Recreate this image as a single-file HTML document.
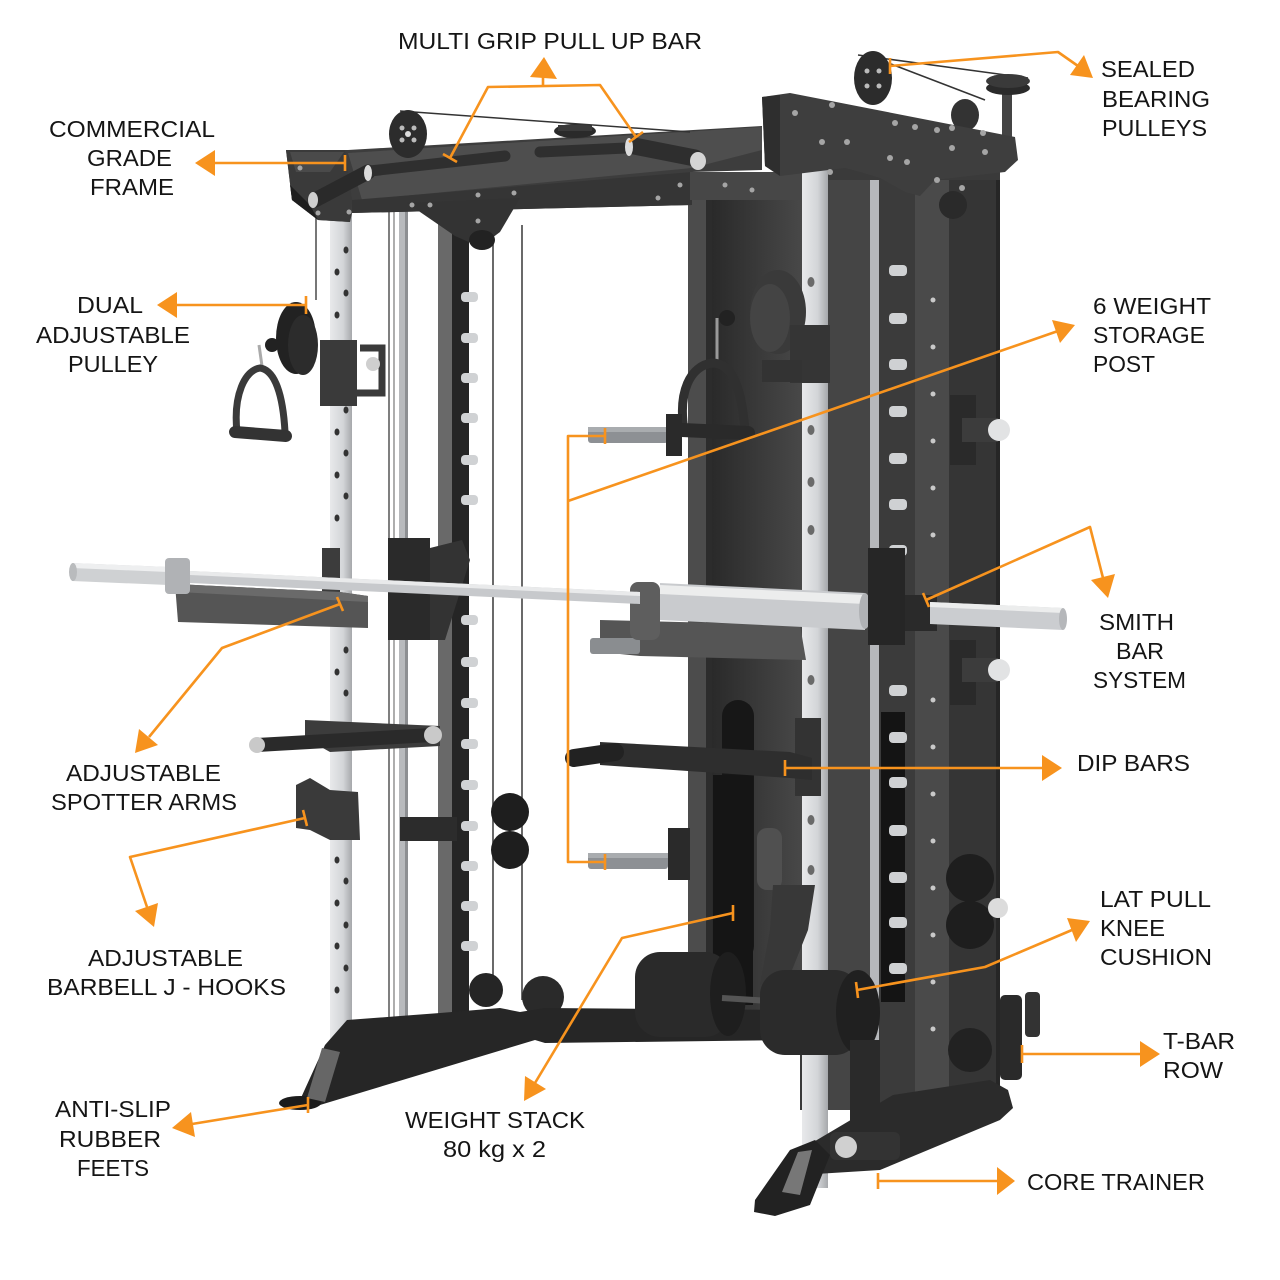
<!DOCTYPE html>
<html><head><meta charset="utf-8"><style>html,body{margin:0;padding:0;background:#fff}svg{display:block}</style></head>
<body>
<svg width="1280" height="1280" viewBox="0 0 1280 1280" xmlns="http://www.w3.org/2000/svg">
<defs>
<linearGradient id="silverV" x1="0" x2="1" y1="0" y2="0"><stop offset="0" stop-color="#e8e9eb"/><stop offset="0.6" stop-color="#d3d5d8"/><stop offset="1" stop-color="#a6a8ab"/></linearGradient>
<linearGradient id="panel" x1="0" x2="1" y1="0" y2="0"><stop offset="0" stop-color="#2a2a2a"/><stop offset="1" stop-color="#484848"/></linearGradient>
</defs>
<rect width="1280" height="1280" fill="#fff"/>

<!-- RIGHT TOWER -->
<rect x="688" y="178" width="114" height="832" fill="#3a3a3a"/>
<rect x="800" y="168" width="200" height="942" fill="#3a3a3a"/>
<rect x="688" y="178" width="20" height="830" fill="#4c4c4c"/>
<rect x="706" y="178" width="6" height="830" fill="#2c2c2c"/>
<rect x="712" y="200" width="90" height="810" fill="url(#panel)"/>
<rect x="722" y="700" width="32" height="262" rx="16" fill="#171717"/>
<rect x="713" y="775" width="40" height="230" fill="#151515"/>
<rect x="828" y="180" width="42" height="930" fill="#454545"/>
<rect x="870" y="180" width="9" height="920" fill="#b6b8bb"/>
<rect x="879" y="180" width="36" height="930" fill="#3b3b3b"/>
<rect x="881" y="712" width="24" height="290" fill="#141414"/>
<rect x="915" y="180" width="34" height="930" fill="#4a4a4a"/>
<rect x="949" y="180" width="50" height="930" fill="#353535"/>
<rect x="996" y="180" width="4" height="930" fill="#262626"/>
<g fill="#cfd1d3">
<rect x="889" y="265" width="18" height="11" rx="4"/><rect x="889" y="313" width="18" height="11" rx="4"/><rect x="889" y="359" width="18" height="11" rx="4"/><rect x="889" y="406" width="18" height="11" rx="4"/><rect x="889" y="453" width="18" height="11" rx="4"/><rect x="889" y="499" width="18" height="11" rx="4"/><rect x="889" y="545" width="18" height="11" rx="4"/><rect x="889" y="685" width="18" height="11" rx="4"/><rect x="889" y="732" width="18" height="11" rx="4"/><rect x="889" y="777" width="18" height="11" rx="4"/><rect x="889" y="825" width="18" height="11" rx="4"/><rect x="889" y="872" width="18" height="11" rx="4"/><rect x="889" y="917" width="18" height="11" rx="4"/><rect x="889" y="963" width="18" height="11" rx="4"/>
</g>
<g fill="#c9c9c9">
<circle cx="933" cy="300" r="2.5"/><circle cx="933" cy="347" r="2.5"/><circle cx="933" cy="394" r="2.5"/><circle cx="933" cy="441" r="2.5"/><circle cx="933" cy="488" r="2.5"/><circle cx="933" cy="535" r="2.5"/><circle cx="933" cy="700" r="2.5"/><circle cx="933" cy="747" r="2.5"/><circle cx="933" cy="794" r="2.5"/><circle cx="933" cy="841" r="2.5"/><circle cx="933" cy="888" r="2.5"/><circle cx="933" cy="935" r="2.5"/><circle cx="933" cy="982" r="2.5"/><circle cx="933" cy="1029" r="2.5"/>
</g>
<!-- right silver upright -->
<rect x="802" y="168" width="26" height="1020" fill="url(#silverV)"/>
<g fill="#6a6a6a">
<ellipse cx="811" cy="282" rx="3.5" ry="5"/><ellipse cx="811" cy="430" rx="3.5" ry="5"/><ellipse cx="811" cy="482" rx="3.5" ry="5"/><ellipse cx="811" cy="530" rx="3.5" ry="5"/><ellipse cx="811" cy="680" rx="3.5" ry="5"/><ellipse cx="811" cy="730" rx="3.5" ry="5"/><ellipse cx="811" cy="820" rx="3.5" ry="5"/><ellipse cx="811" cy="870" rx="3.5" ry="5"/>
</g>
<!-- right side storage posts -->
<rect x="950" y="395" width="26" height="70" fill="#2a2a2a"/>
<rect x="962" y="418" width="36" height="24" fill="#3c3c3c"/>
<circle cx="999" cy="430" r="11" fill="#e2e3e4"/>
<rect x="950" y="640" width="26" height="65" fill="#2a2a2a"/>
<rect x="962" y="658" width="36" height="24" fill="#3c3c3c"/>
<circle cx="999" cy="670" r="11" fill="#e2e3e4"/>
<circle cx="970" cy="878" r="24" fill="#1e1e1e"/>
<circle cx="970" cy="925" r="24" fill="#1e1e1e"/>
<circle cx="998" cy="908" r="10" fill="#dcdcdc"/>
<circle cx="970" cy="1050" r="22" fill="#222"/>
<ellipse cx="953" cy="205" rx="14" ry="14" fill="#2a2a2a"/>

<!-- LEFT SIDE BACK ELEMENTS -->
<line x1="316" y1="205" x2="316" y2="300" stroke="#555" stroke-width="1.6"/>
<line x1="389" y1="212" x2="389" y2="1032" stroke="#555" stroke-width="1.5"/>
<line x1="394" y1="212" x2="394" y2="1032" stroke="#777" stroke-width="1.2"/>
<rect x="399" y="210" width="9" height="825" fill="#b8babd"/>
<rect x="405" y="210" width="3" height="825" fill="#8d8f92"/>
<line x1="493" y1="240" x2="493" y2="1000" stroke="#444" stroke-width="1.6"/>
<line x1="522" y1="225" x2="522" y2="1000" stroke="#444" stroke-width="1.6"/>
<rect x="438" y="215" width="14" height="830" fill="#696969"/>
<rect x="452" y="215" width="17" height="830" fill="#252525"/>
<g fill="#d0d2d4">
<rect x="461" y="292" width="17" height="10" rx="4"/><rect x="461" y="333" width="17" height="10" rx="4"/><rect x="461" y="373" width="17" height="10" rx="4"/><rect x="461" y="413" width="17" height="10" rx="4"/><rect x="461" y="455" width="17" height="10" rx="4"/><rect x="461" y="495" width="17" height="10" rx="4"/><rect x="461" y="615" width="17" height="10" rx="4"/><rect x="461" y="657" width="17" height="10" rx="4"/><rect x="461" y="698" width="17" height="10" rx="4"/><rect x="461" y="739" width="17" height="10" rx="4"/><rect x="461" y="780" width="17" height="10" rx="4"/><rect x="461" y="821" width="17" height="10" rx="4"/><rect x="461" y="861" width="17" height="10" rx="4"/><rect x="461" y="901" width="17" height="10" rx="4"/><rect x="461" y="941" width="17" height="10" rx="4"/>
</g>
<rect x="400" y="817" width="57" height="24" fill="#2c2c2c"/>
<!-- left silver upright -->
<rect x="330" y="205" width="22" height="835" fill="url(#silverV)"/>
<g fill="#333">
<ellipse cx="346" cy="250" rx="2.5" ry="3.5"/><ellipse cx="337" cy="272" rx="2.5" ry="3.5"/><ellipse cx="346" cy="293" rx="2.5" ry="3.5"/><ellipse cx="337" cy="315" rx="2.5" ry="3.5"/><ellipse cx="346" cy="410" rx="2.5" ry="3.5"/><ellipse cx="337" cy="432" rx="2.5" ry="3.5"/><ellipse cx="346" cy="453" rx="2.5" ry="3.5"/><ellipse cx="337" cy="475" rx="2.5" ry="3.5"/><ellipse cx="346" cy="496" rx="2.5" ry="3.5"/><ellipse cx="337" cy="518" rx="2.5" ry="3.5"/><ellipse cx="346" cy="650" rx="2.5" ry="3.5"/><ellipse cx="337" cy="672" rx="2.5" ry="3.5"/><ellipse cx="346" cy="693" rx="2.5" ry="3.5"/><ellipse cx="337" cy="860" rx="2.5" ry="3.5"/><ellipse cx="346" cy="881" rx="2.5" ry="3.5"/><ellipse cx="337" cy="903" rx="2.5" ry="3.5"/><ellipse cx="346" cy="925" rx="2.5" ry="3.5"/><ellipse cx="337" cy="946" rx="2.5" ry="3.5"/><ellipse cx="346" cy="968" rx="2.5" ry="3.5"/><ellipse cx="337" cy="990" rx="2.5" ry="3.5"/>
</g>
<rect x="322" y="548" width="18" height="60" fill="#3c3c3c"/>

<!-- TOP FRAME -->
<polygon points="286,150 348,150 762,126 762,170 692,172 692,205 352,213 350,222 318,220 292,200" fill="#3d3d3d"/>
<polygon points="348,153 762,127 762,150 692,168 362,200" fill="#4e4e4e"/>
<polygon points="352,200 692,172 692,205 352,213" fill="#353535"/>
<polygon points="407,203 520,198 500,232 480,247 455,236" fill="#333"/>
<ellipse cx="482" cy="240" rx="13" ry="10" fill="#222"/>
<rect x="690" y="172" width="112" height="28" fill="#474747"/>
<polygon points="286,150 345,150 352,200 350,222 318,220 292,200" fill="#3a3a3a"/>
<polygon points="290,152 344,152 330,172 296,172" fill="#4a4a4a"/>
<polygon points="290,185 310,205 318,220 292,200" fill="#1e1e1e"/>
<!-- pipes -->
<line x1="315" y1="200" x2="368" y2="172" stroke="#2a2a2a" stroke-width="15" stroke-linecap="round"/>
<line x1="370" y1="171" x2="505" y2="156" stroke="#2f2f2f" stroke-width="11" stroke-linecap="round"/>
<ellipse cx="368" cy="173" rx="4" ry="8" fill="#dcdcdc"/>
<ellipse cx="313" cy="200" rx="5" ry="8" fill="#cfcfcf"/>
<line x1="540" y1="152" x2="626" y2="148" stroke="#2f2f2f" stroke-width="11" stroke-linecap="round"/>
<line x1="634" y1="146" x2="695" y2="158" stroke="#2e2e2e" stroke-width="17" stroke-linecap="round"/>
<ellipse cx="629" cy="147" rx="4" ry="9" fill="#dcdcdc"/>
<ellipse cx="698" cy="161" rx="8" ry="9" fill="#d5d5d5"/>
<ellipse cx="575" cy="131" rx="21" ry="7" fill="#2a2a2a"/>
<rect x="558" y="125" width="34" height="6" fill="#3a3a3a"/>
<!-- top pulleys & cables -->
<line x1="400" y1="111" x2="690" y2="132" stroke="#333" stroke-width="1.5"/>
<ellipse cx="408" cy="134" rx="19" ry="24" fill="#2c2c2c"/>
<g fill="#bbb"><circle cx="402" cy="128" r="2.5"/><circle cx="414" cy="128" r="2.5"/><circle cx="402" cy="140" r="2.5"/><circle cx="414" cy="140" r="2.5"/></g>
<circle cx="408" cy="134" r="3" fill="#ddd"/>
<line x1="858" y1="55" x2="1028" y2="78" stroke="#333" stroke-width="1.5"/>
<line x1="891" y1="64" x2="985" y2="100" stroke="#333" stroke-width="1.5"/>
<ellipse cx="965" cy="115" rx="14" ry="16" fill="#333"/>
<rect x="1002" y="86" width="10" height="55" fill="#444"/>
<ellipse cx="1008" cy="88" rx="22" ry="7" fill="#2a2a2a"/>
<ellipse cx="1008" cy="81" rx="22" ry="7" fill="#3a3a3a"/>
<ellipse cx="873" cy="78" rx="19" ry="27" fill="#2c2c2c"/>
<g fill="#bbb"><circle cx="867" cy="71" r="2.5"/><circle cx="879" cy="71" r="2.5"/><circle cx="867" cy="86" r="2.5"/><circle cx="879" cy="86" r="2.5"/></g>
<!-- right top plate -->
<polygon points="762,97 790,93 1015,137 1018,160 1005,172 935,180 920,196 905,192 880,178 860,172 845,168 780,176 765,166" fill="#3e3e3e"/>
<polygon points="762,97 780,95 780,176 765,166" fill="#2e2e2e"/>
<g fill="#a5a5a5">
<circle cx="795" cy="113" r="3"/><circle cx="832" cy="105" r="3"/><circle cx="822" cy="142" r="3"/><circle cx="847" cy="142" r="3"/><circle cx="895" cy="123" r="3"/><circle cx="915" cy="127" r="3"/><circle cx="937" cy="130" r="3"/><circle cx="952" cy="128" r="3"/><circle cx="983" cy="133" r="3"/><circle cx="952" cy="148" r="3"/><circle cx="985" cy="152" r="3"/><circle cx="890" cy="158" r="3"/><circle cx="907" cy="162" r="3"/><circle cx="830" cy="172" r="3"/><circle cx="937" cy="180" r="3"/><circle cx="962" cy="188" r="3"/>
<circle cx="300" cy="168" r="2.5"/><circle cx="318" cy="213" r="2.5"/><circle cx="349" cy="212" r="2.5"/><circle cx="412" cy="205" r="2.5"/><circle cx="430" cy="205" r="2.5"/><circle cx="478" cy="221" r="2.5"/><circle cx="478" cy="195" r="2.5"/><circle cx="514" cy="193" r="2.5"/><circle cx="658" cy="198" r="2.5"/><circle cx="680" cy="185" r="2.5"/><circle cx="725" cy="185" r="2.5"/><circle cx="752" cy="190" r="2.5"/>
</g>

<!-- RIGHT PULLEY & HANDLE -->
<ellipse cx="778" cy="312" rx="28" ry="42" fill="#3a3a3a"/>
<ellipse cx="770" cy="318" rx="20" ry="34" fill="#444"/>
<rect x="790" y="325" width="40" height="58" fill="#353535"/>
<rect x="762" y="360" width="40" height="22" fill="#333"/>
<line x1="717" y1="318" x2="717" y2="362" stroke="#999" stroke-width="3"/>
<circle cx="727" cy="318" r="8" fill="#222"/>
<path d="M684 430 C 678 392, 690 366, 712 363 C 735 363, 742 395, 745 430" stroke="#303030" stroke-width="9" fill="none"/>
<line x1="682" y1="430" x2="748" y2="433" stroke="#2a2a2a" stroke-width="14" stroke-linecap="round"/>

<!-- LEFT PULLEY & HANDLE -->
<ellipse cx="296" cy="338" rx="20" ry="36" fill="#222"/>
<ellipse cx="303" cy="345" rx="15" ry="30" fill="#2c2c2c"/>
<rect x="320" y="340" width="37" height="66" fill="#3a3a3a"/>
<path d="M360 348 h 22 v 45 h -30" stroke="#3a3a3a" stroke-width="7" fill="none"/>
<circle cx="373" cy="364" r="7" fill="#cfcfcf"/>
<line x1="259" y1="345" x2="262" y2="366" stroke="#aaa" stroke-width="3"/>
<circle cx="272" cy="345" r="7" fill="#222"/>
<path d="M237 432 C 233 395, 245 370, 260 368 C 275 370, 283 395, 285 432" stroke="#3a3a3a" stroke-width="7" fill="none"/>
<line x1="235" y1="432" x2="286" y2="436" stroke="#333" stroke-width="12" stroke-linecap="round"/>

<!-- storage posts left of tower -->
<rect x="588" y="427" width="80" height="16" rx="3" fill="#8d9094"/>
<rect x="588" y="427" width="80" height="5" fill="#a9acaf"/>
<rect x="666" y="414" width="16" height="42" fill="#2a2a2a"/>
<rect x="588" y="853" width="80" height="16" rx="3" fill="#8d9094"/>
<rect x="588" y="853" width="80" height="5" fill="#a9acaf"/>
<rect x="668" y="828" width="22" height="52" fill="#2a2a2a"/>

<!-- smith carriages -->
<rect x="388" y="538" width="42" height="102" fill="#2a2a2a"/>
<path d="M430 548 L462 540 L470 560 L445 640 L430 640 Z" fill="#333"/>

<!-- left spotter arm under bar -->
<polygon points="175,584 340,592 368,596 368,628 178,622" fill="#555"/>
<polygon points="175,584 340,592 368,596 368,602 178,592" fill="#6a6a6a"/>
<!-- right arm -->
<polygon points="600,620 800,625 806,660 640,656 600,652" fill="#555"/>
<rect x="590" y="638" width="50" height="16" rx="3" fill="#8a8d90"/>
<rect x="630" y="582" width="30" height="58" rx="8" fill="#5e5e5e"/>

<!-- BARBELL -->
<polygon points="72,563 168,567 168,585 72,581" fill="#cfd1d3"/>
<polygon points="72,563 168,567 168,572 72,568" fill="#eeeff0"/>
<ellipse cx="73" cy="572" rx="4" ry="9" fill="#b9bbbd"/>
<rect x="165" y="558" width="25" height="36" rx="4" fill="#b0b2b5"/>
<polygon points="190,571 640,592 640,604 190,583" fill="#c7c9cc"/>
<polygon points="190,571 640,592 640,596 190,575" fill="#e9eaeb"/>
<polygon points="660,583 865,593 865,630 660,620" fill="#c9cbce"/>
<polygon points="660,585 865,595 865,604 660,594" fill="#eceded"/>
<ellipse cx="865" cy="611" rx="6" ry="18" fill="#b0b2b5"/>
<rect x="868" y="548" width="37" height="97" fill="#262626"/>
<rect x="905" y="595" width="32" height="36" fill="#2a2a2a"/>
<polygon points="930,602 1063,608 1063,630 930,624" fill="#cbcdd0"/>
<polygon points="930,602 1063,608 1063,613 930,607" fill="#eceded"/>
<ellipse cx="1063" cy="619" rx="4" ry="11" fill="#b5b7ba"/>

<!-- lower left spotter arms -->
<polygon points="305,720 440,726 440,746 330,752 305,738" fill="#3c3c3c"/>
<line x1="257" y1="745" x2="432" y2="735" stroke="#2a2a2a" stroke-width="14"/>
<circle cx="257" cy="745" r="8" fill="#c9c9c9"/>
<circle cx="433" cy="735" r="9" fill="#c9c9c9"/>
<polygon points="296,785 310,778 330,790 358,792 360,840 330,840 310,830 296,828" fill="#3a3a3a"/>
<!-- left plates -->
<circle cx="510" cy="812" r="19" fill="#1e1e1e"/>
<circle cx="510" cy="850" r="19" fill="#1e1e1e"/>
<circle cx="486" cy="990" r="17" fill="#252525"/>
<circle cx="543" cy="997" r="21" fill="#2a2a2a"/>

<!-- DIP BAR -->
<rect x="795" y="718" width="26" height="78" fill="#333"/>
<polygon points="600,742 790,752 812,758 812,780 790,778 600,765" fill="#2e2e2e"/>
<line x1="574" y1="758" x2="615" y2="752" stroke="#222" stroke-width="18" stroke-linecap="round"/>

<!-- LEFT BASE -->
<polygon points="300,1100 325,1045 347,1020 440,1013 500,1008 520,1012 545,1008 800,1010 800,1040 545,1043 535,1040 310,1108" fill="#262626"/>
<ellipse cx="300" cy="1103" rx="21" ry="7" fill="#1c1c1c"/>
<polygon points="307,1098 322,1048 340,1052 325,1102" fill="#666"/>

<!-- CORE TRAINER / KNEE -->
<rect x="757" y="828" width="25" height="62" rx="10" fill="#505050"/>
<polygon points="773,885 815,885 808,930 790,975 760,985 770,930" fill="#383838"/>
<rect x="635" y="952" width="95" height="85" rx="25" fill="#2a2a2a"/>
<ellipse cx="728" cy="994" rx="18" ry="42" fill="#1e1e1e"/>
<line x1="722" y1="998" x2="770" y2="1001" stroke="#555" stroke-width="6"/>
<rect x="760" y="970" width="100" height="85" rx="25" fill="#2b2b2b"/>
<ellipse cx="858" cy="1012" rx="22" ry="42" fill="#202020"/>

<!-- RIGHT BASE -->
<polygon points="893,1095 990,1080 1008,1090 1013,1108 1000,1120 880,1170 800,1175 800,1150" fill="#2b2b2b"/>
<rect x="850" y="1040" width="30" height="100" fill="#2a2a2a"/>
<rect x="830" y="1132" width="70" height="28" rx="6" fill="#333"/>
<circle cx="846" cy="1147" r="11" fill="#d0d0d0"/>
<polygon points="755,1200 790,1150 815,1140 830,1155 810,1205 775,1216 754,1212" fill="#222"/>
<polygon points="782,1192 798,1152 812,1150 800,1195" fill="#777"/>
<rect x="1000" y="995" width="22" height="85" rx="5" fill="#2a2a2a"/>
<rect x="1025" y="992" width="15" height="45" rx="4" fill="#333"/>

<!-- ORANGE ANNOTATIONS -->
<g stroke="#f7931e" stroke-width="2.6" fill="none" stroke-linejoin="round">
<line x1="345" y1="163" x2="212" y2="163"/><line x1="345" y1="155" x2="345" y2="171"/>
<line x1="306" y1="305" x2="174" y2="305"/><line x1="306" y1="296" x2="306" y2="314"/>
<polyline points="450,158 488,87 600,85 636,137"/><line x1="543" y1="86" x2="543" y2="74"/>
<line x1="443" y1="154" x2="457" y2="162"/><line x1="629" y1="142" x2="643" y2="132"/>
<polyline points="890,66 1058,52 1078,66"/><line x1="890" y1="58" x2="890" y2="74"/>
<polyline points="605,436 568,436 568,862 605,862"/><line x1="605" y1="428" x2="605" y2="444"/><line x1="605" y1="854" x2="605" y2="870"/>
<line x1="568" y1="501" x2="1058" y2="331"/>
<polyline points="926,600 1090,527 1103,578"/><line x1="923" y1="593" x2="929" y2="607"/>
<line x1="785" y1="768" x2="1045" y2="768"/><line x1="785" y1="760" x2="785" y2="776"/>
<polyline points="857,990 985,967 1072,930"/><line x1="856" y1="982" x2="858" y2="998"/>
<line x1="1022" y1="1054" x2="1143" y2="1054"/><line x1="1022" y1="1045" x2="1022" y2="1063"/>
<line x1="878" y1="1181" x2="1000" y2="1181"/><line x1="878" y1="1173" x2="878" y2="1189"/>
<polyline points="340,604 222,648 149,737"/><line x1="337" y1="597" x2="343" y2="611"/>
<polyline points="305,818 130,857 147,907"/><line x1="303" y1="810" x2="307" y2="826"/>
<line x1="308" y1="1105" x2="192" y2="1124"/><line x1="308" y1="1097" x2="308" y2="1113"/>
<polyline points="733,913 622,938 535,1083"/><line x1="733" y1="905" x2="733" y2="921"/>
</g>
<g fill="#f7931e">
<polygon points="195,163 215,150 215,176"/>
<polygon points="157,305 177,292 177,318"/>
<polygon points="544,57 530,77 557,79"/>
<polygon points="1093,78 1070,75 1084,55"/>
<polygon points="1075,325 1052,320 1060,343"/>
<polygon points="1108,598 1091,580 1115,574"/>
<polygon points="1062,768 1042,755 1042,781"/>
<polygon points="1090,921 1067,918 1076,942"/>
<polygon points="1160,1054 1140,1041 1140,1067"/>
<polygon points="1015,1181 997,1167 997,1195"/>
<polygon points="135,753 158,745 139,729"/>
<polygon points="154,927 135,911 158,903"/>
<polygon points="172,1128 195,1137 191,1112"/>
<polygon points="524,1101 525,1076 546,1089"/>
</g>

<!-- TEXT -->
<g font-family="'Liberation Sans', Arial, sans-serif" font-size="23" fill="#151515">
<text x="398" y="49" textLength="304" lengthAdjust="spacingAndGlyphs">MULTI GRIP PULL UP BAR</text>
<text x="49" y="137" textLength="166" lengthAdjust="spacingAndGlyphs">COMMERCIAL</text>
<text x="87" y="166" textLength="85" lengthAdjust="spacingAndGlyphs">GRADE</text>
<text x="90" y="195" textLength="84" lengthAdjust="spacingAndGlyphs">FRAME</text>
<text x="1101" y="77" textLength="94" lengthAdjust="spacingAndGlyphs">SEALED</text>
<text x="1102" y="107" textLength="108" lengthAdjust="spacingAndGlyphs">BEARING</text>
<text x="1102" y="136" textLength="105" lengthAdjust="spacingAndGlyphs">PULLEYS</text>
<text x="77" y="313" textLength="66" lengthAdjust="spacingAndGlyphs">DUAL</text>
<text x="36" y="343" textLength="154" lengthAdjust="spacingAndGlyphs">ADJUSTABLE</text>
<text x="68" y="372" textLength="90" lengthAdjust="spacingAndGlyphs">PULLEY</text>
<text x="1093" y="314" textLength="118" lengthAdjust="spacingAndGlyphs">6 WEIGHT</text>
<text x="1093" y="343" textLength="112" lengthAdjust="spacingAndGlyphs">STORAGE</text>
<text x="1093" y="372" textLength="62" lengthAdjust="spacingAndGlyphs">POST</text>
<text x="1099" y="630" textLength="75" lengthAdjust="spacingAndGlyphs">SMITH</text>
<text x="1116" y="659" textLength="48" lengthAdjust="spacingAndGlyphs">BAR</text>
<text x="1093" y="688" textLength="93" lengthAdjust="spacingAndGlyphs">SYSTEM</text>
<text x="1077" y="771" textLength="113" lengthAdjust="spacingAndGlyphs">DIP BARS</text>
<text x="66" y="781" textLength="155" lengthAdjust="spacingAndGlyphs">ADJUSTABLE</text>
<text x="51" y="810" textLength="186" lengthAdjust="spacingAndGlyphs">SPOTTER ARMS</text>
<text x="1100" y="907" textLength="111" lengthAdjust="spacingAndGlyphs">LAT PULL</text>
<text x="1100" y="936" textLength="65" lengthAdjust="spacingAndGlyphs">KNEE</text>
<text x="1100" y="965" textLength="112" lengthAdjust="spacingAndGlyphs">CUSHION</text>
<text x="88" y="966" textLength="155" lengthAdjust="spacingAndGlyphs">ADJUSTABLE</text>
<text x="47" y="995" textLength="239" lengthAdjust="spacingAndGlyphs">BARBELL J - HOOKS</text>
<text x="1163" y="1049" textLength="72" lengthAdjust="spacingAndGlyphs">T-BAR</text>
<text x="1163" y="1078" textLength="60" lengthAdjust="spacingAndGlyphs">ROW</text>
<text x="55" y="1117" textLength="116" lengthAdjust="spacingAndGlyphs">ANTI-SLIP</text>
<text x="59" y="1147" textLength="102" lengthAdjust="spacingAndGlyphs">RUBBER</text>
<text x="77" y="1176" textLength="72" lengthAdjust="spacingAndGlyphs">FEETS</text>
<text x="405" y="1128" textLength="180" lengthAdjust="spacingAndGlyphs">WEIGHT STACK</text>
<text x="443" y="1157" textLength="103" lengthAdjust="spacingAndGlyphs">80 kg x 2</text>
<text x="1027" y="1190" textLength="178" lengthAdjust="spacingAndGlyphs">CORE TRAINER</text>
</g>
</svg>
</body></html>
